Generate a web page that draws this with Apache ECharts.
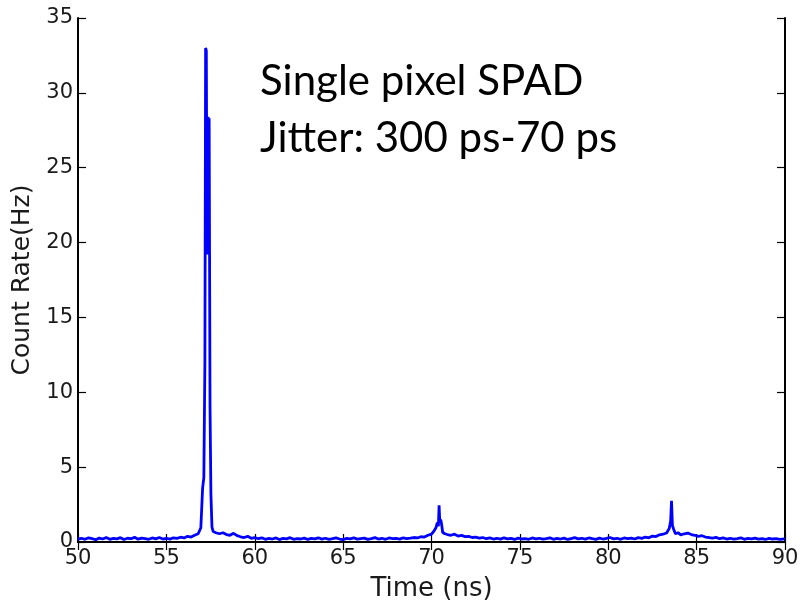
<!DOCTYPE html>
<html lang="en">
  <head>
    <meta charset="UTF-8" />
    <title>SPAD jitter</title>
    <style>
      * {
        padding: 0;
        margin: 0;
      }
      #chart {
        width: 802px;
        height: 607px;
        background: #fff;
      }
    </style>
    <script src="https://cdn.jsdelivr.net/npm/echarts@6/dist/echarts.min.js"></script>
  </head>
  <body>
    <div id="chart"></div>
    <script type="text/javascript">
      // time (ns) and count rate (Hz)
      const times = [
        50.0, 50.2, 50.4, 50.6, 50.8, 51.0, 51.2, 51.4, 51.6, 51.8,
        52.0, 52.2, 52.4, 52.6, 52.8, 53.0, 53.2, 53.4, 53.6, 53.8,
        54.0, 54.2, 54.4, 54.6, 54.8, 55.0, 55.2, 55.4, 55.6, 55.8,
        56.0, 56.2, 56.4, 56.6, 56.8, 56.95, 57.05, 57.12, 57.18, 57.22,
        57.26, 57.3, 57.33, 57.36, 57.39, 57.42, 57.47, 57.52, 57.58, 57.65,
        57.8, 58.0, 58.2, 58.4, 58.6, 58.8, 59.0, 59.2, 59.4, 59.6,
        59.8, 60.0, 60.2, 60.4, 60.6, 60.8, 61.0, 61.2, 61.4, 61.6,
        61.8, 62.0, 62.2, 62.4, 62.6, 62.8, 63.0, 63.2, 63.4, 63.6,
        63.8, 64.0, 64.2, 64.4, 64.6, 64.8, 65.0, 65.2, 65.4, 65.6,
        65.8, 66.0, 66.2, 66.4, 66.6, 66.8, 67.0, 67.2, 67.4, 67.6,
        67.8, 68.0, 68.2, 68.4, 68.6, 68.8, 69.0, 69.2, 69.4, 69.6,
        69.8, 70.0, 70.15, 70.25, 70.33, 70.39, 70.43, 70.47, 70.52, 70.57,
        70.63, 70.75, 70.9, 71.1, 71.3, 71.5, 71.7, 71.9, 72.1, 72.3,
        72.5, 72.7, 72.9, 73.1, 73.3, 73.5, 73.7, 73.9, 74.1, 74.3,
        74.5, 74.7, 74.9, 75.1, 75.3, 75.5, 75.7, 75.9, 76.1, 76.3,
        76.5, 76.7, 76.9, 77.1, 77.3, 77.5, 77.7, 77.9, 78.1, 78.3,
        78.5, 78.7, 78.9, 79.1, 79.3, 79.5, 79.7, 79.9, 80.1, 80.3,
        80.5, 80.7, 80.9, 81.1, 81.3, 81.5, 81.7, 81.9, 82.1, 82.3,
        82.5, 82.7, 82.9, 83.1, 83.3, 83.45, 83.53, 83.58, 83.63, 83.7,
        83.8, 83.95, 84.1, 84.3, 84.5, 84.7, 84.9, 85.1, 85.3, 85.5,
        85.7, 85.9, 86.1, 86.3, 86.5, 86.7, 86.9, 87.1, 87.3, 87.5,
        87.7, 87.9, 88.1, 88.3, 88.5, 88.7, 88.9, 89.1, 89.3, 89.5,
        89.7, 90.0
      ]
      const counts = [
        0.20, 0.25, 0.18, 0.28, 0.22, 0.15, 0.26, 0.20, 0.30, 0.18,
        0.24, 0.21, 0.29, 0.17, 0.25, 0.22, 0.31, 0.19, 0.26, 0.23,
        0.18, 0.27, 0.21, 0.30, 0.20, 0.25, 0.19, 0.28, 0.24, 0.32,
        0.27, 0.38, 0.33, 0.45, 0.55, 0.95, 3.6, 4.3, 12.0, 33.0,
        32.8, 19.2, 20.5, 28.4, 19.5, 28.3, 9.0, 3.2, 1.0, 0.7,
        0.62, 0.55, 0.62, 0.50, 0.45, 0.58, 0.42, 0.35, 0.30, 0.38,
        0.25, 0.30, 0.22, 0.28, 0.18, 0.24, 0.20, 0.27, 0.16, 0.25,
        0.21, 0.29, 0.18, 0.23, 0.20, 0.26, 0.17, 0.24, 0.21, 0.28,
        0.19, 0.25, 0.18, 0.22, 0.27, 0.20, 0.16, 0.24, 0.21, 0.28,
        0.19, 0.23, 0.26, 0.18, 0.22, 0.29, 0.20, 0.25, 0.18, 0.27,
        0.22, 0.24, 0.19, 0.28, 0.23, 0.26, 0.30, 0.27, 0.35, 0.33,
        0.45, 0.52, 0.75, 0.95, 1.30, 1.05, 2.45, 1.30, 1.50, 1.20,
        0.65, 0.55, 0.50, 0.45, 0.52, 0.40, 0.44, 0.36, 0.38, 0.30,
        0.33, 0.26, 0.30, 0.22, 0.27, 0.20, 0.25, 0.19, 0.28, 0.21,
        0.24, 0.17, 0.26, 0.20, 0.23, 0.18, 0.27, 0.21, 0.25, 0.19,
        0.22, 0.28, 0.18, 0.24, 0.20, 0.26, 0.17, 0.23, 0.29, 0.21,
        0.25, 0.19, 0.27, 0.22, 0.18, 0.26, 0.20, 0.24, 0.30, 0.21,
        0.25, 0.18, 0.27, 0.22, 0.26, 0.20, 0.29, 0.24, 0.33, 0.28,
        0.40, 0.36, 0.48, 0.52, 0.60, 0.90, 1.40, 2.75, 1.10, 0.85,
        0.55, 0.62, 0.48, 0.55, 0.60, 0.50, 0.45, 0.38, 0.42, 0.33,
        0.30, 0.26, 0.31, 0.22, 0.27, 0.20, 0.25, 0.19, 0.23, 0.28,
        0.18, 0.24, 0.21, 0.26, 0.19, 0.23, 0.17, 0.25, 0.20, 0.22,
        0.18, 0.21
      ]
      const xTicks = [50, 55, 60, 65, 70, 75, 80, 85, 90]
      const yTicks = [0, 5, 10, 15, 20, 25, 30, 35]
      const noteLines = ['Single pixel SPAD', 'Jitter: 300 ps-70 ps']

      const points = times.map((t, i) => [t, counts[i]])

      const chart = echarts.init(document.getElementById('chart'))

      const tickFont = {
        fontFamily: 'DejaVu Sans',
        fontSize: 21,
        color: '#1a1a1a',
      }
      const boxLine = { lineStyle: { color: '#000', width: 2 } }
      const inTicks = {
        show: true,
        inside: true,
        length: 8,
        lineStyle: { color: '#000', width: 1.2 },
      }

      const option = {
        animation: false,
        backgroundColor: '#fff',
        grid: { left: 78, right: 17, top: 18, bottom: 64 },
        graphic: noteLines.map((txt, i) => ({
          type: 'text',
          left: 260,
          top: 60 + i * 57,
          style: {
            text: txt,
            fontFamily: 'Lato',
            fontSize: 42,
            fill: '#000',
          },
        })),
        xAxis: [
          {
            type: 'value',
            min: xTicks[0],
            max: xTicks[xTicks.length - 1],
            interval: 5,
            position: 'bottom',
            name: 'Time (ns)',
            nameLocation: 'middle',
            nameGap: 34,
            nameTextStyle: {
              fontFamily: 'DejaVu Sans',
              fontSize: 26,
              color: '#1a1a1a',
            },
            axisLine: boxLine,
            axisTick: inTicks,
            axisLabel: Object.assign({ margin: 6 }, tickFont),
            splitLine: { show: false },
          },
          {
            type: 'value',
            min: xTicks[0],
            max: xTicks[xTicks.length - 1],
            interval: 5,
            position: 'top',
            axisLine: boxLine,
            axisTick: inTicks,
            axisLabel: { show: false },
            splitLine: { show: false },
          },
        ],
        yAxis: [
          {
            type: 'value',
            min: yTicks[0],
            max: yTicks[yTicks.length - 1],
            interval: 5,
            position: 'left',
            name: 'Count Rate(Hz)',
            nameLocation: 'middle',
            nameGap: 38,
            nameTextStyle: {
              fontFamily: 'DejaVu Sans',
              fontSize: 25,
              color: '#1a1a1a',
            },
            axisLine: boxLine,
            axisTick: inTicks,
            axisLabel: Object.assign({ margin: 5 }, tickFont),
            splitLine: { show: false },
          },
          {
            type: 'value',
            min: yTicks[0],
            max: yTicks[yTicks.length - 1],
            interval: 5,
            position: 'right',
            axisLine: boxLine,
            axisTick: inTicks,
            axisLabel: { show: false },
            splitLine: { show: false },
          },
        ],
        series: [
          {
            type: 'line',
            data: points,
            showSymbol: false,
            lineStyle: { color: '#0000ff', width: 2.8 },
            z: 3,
          },
        ],
      }

      chart.setOption(option)
    </script>
  </body>
</html>
